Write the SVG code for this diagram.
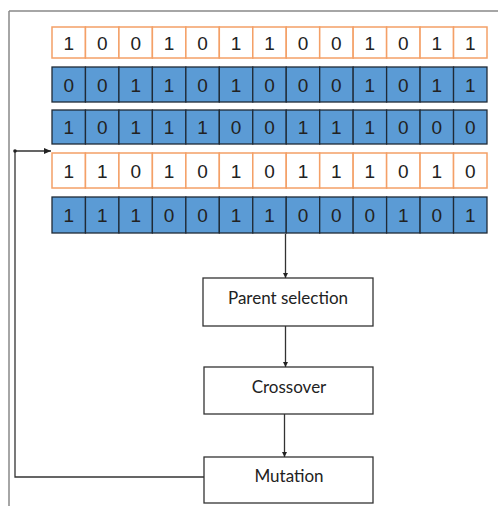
<svg xmlns="http://www.w3.org/2000/svg" width="498" height="506" viewBox="0 0 498 506">
<defs>
<style>
.o{fill:#fff;stroke:#f4a067;stroke-width:1.5}
.b{fill:#5b9bd5;stroke:#1f2a36;stroke-width:1.3}
.d{font-family:"Liberation Sans",Arial,sans-serif;font-size:19px;fill:#222;text-anchor:middle}
.box{fill:#fff;stroke:#333;stroke-width:1.3}
.lbl{font-family:Lato,"Liberation Sans",sans-serif;font-size:17px;fill:#222;text-anchor:middle}
.ln{fill:none;stroke:#333;stroke-width:1.3}
</style>
<marker id="ah" markerWidth="8" markerHeight="8" refX="7" refY="4" orient="auto" markerUnits="userSpaceOnUse">
<path d="M0,1 L7,4 L0,7 Z" fill="#222"/>
</marker>
<marker id="ahs" markerWidth="6" markerHeight="6" refX="5" refY="3" orient="auto" markerUnits="userSpaceOnUse">
<path d="M0,0.5 L5,3 L0,5.5 Z" fill="#222"/>
</marker>
</defs>
<g id="frame">
<line x1="9" y1="11" x2="498" y2="11" stroke="#888" stroke-width="1.5"/>
<line x1="9" y1="11" x2="9" y2="506" stroke="#888" stroke-width="1.5"/>
</g>
<g id="row1">
<g class="o">
<rect x="52" y="27" width="33.46" height="31"/><rect x="85.46" y="27" width="33.46" height="31"/><rect x="118.92" y="27" width="33.46" height="31"/><rect x="152.38" y="27" width="33.46" height="31"/><rect x="185.85" y="27" width="33.46" height="31"/><rect x="219.31" y="27" width="33.46" height="31"/><rect x="252.77" y="27" width="33.46" height="31"/><rect x="286.23" y="27" width="33.46" height="31"/><rect x="319.69" y="27" width="33.46" height="31"/><rect x="353.15" y="27" width="33.46" height="31"/><rect x="386.62" y="27" width="33.46" height="31"/><rect x="420.08" y="27" width="33.46" height="31"/><rect x="453.54" y="27" width="33.46" height="31"/>
</g>
<g class="d">
<text x="68.7" y="49.5">1</text><text x="102.2" y="49.5">0</text><text x="135.7" y="49.5">0</text><text x="169.1" y="49.5">1</text><text x="202.6" y="49.5">0</text><text x="236" y="49.5">1</text><text x="269.5" y="49.5">1</text><text x="303" y="49.5">0</text><text x="336.4" y="49.5">0</text><text x="369.9" y="49.5">1</text><text x="403.3" y="49.5">0</text><text x="436.8" y="49.5">1</text><text x="470.3" y="49.5">1</text>
</g>
</g>
<g id="row2">
<g class="b">
<rect x="52" y="67" width="33.46" height="35"/><rect x="85.46" y="67" width="33.46" height="35"/><rect x="118.92" y="67" width="33.46" height="35"/><rect x="152.38" y="67" width="33.46" height="35"/><rect x="185.85" y="67" width="33.46" height="35"/><rect x="219.31" y="67" width="33.46" height="35"/><rect x="252.77" y="67" width="33.46" height="35"/><rect x="286.23" y="67" width="33.46" height="35"/><rect x="319.69" y="67" width="33.46" height="35"/><rect x="353.15" y="67" width="33.46" height="35"/><rect x="386.62" y="67" width="33.46" height="35"/><rect x="420.08" y="67" width="33.46" height="35"/><rect x="453.54" y="67" width="33.46" height="35"/>
</g>
<g class="d">
<text x="68.7" y="91.5">0</text><text x="102.2" y="91.5">0</text><text x="135.7" y="91.5">1</text><text x="169.1" y="91.5">1</text><text x="202.6" y="91.5">0</text><text x="236" y="91.5">1</text><text x="269.5" y="91.5">0</text><text x="303" y="91.5">0</text><text x="336.4" y="91.5">0</text><text x="369.9" y="91.5">1</text><text x="403.3" y="91.5">0</text><text x="436.8" y="91.5">1</text><text x="470.3" y="91.5">1</text>
</g>
</g>
<g id="row3">
<g class="b">
<rect x="52" y="110" width="33.46" height="34"/><rect x="85.46" y="110" width="33.46" height="34"/><rect x="118.92" y="110" width="33.46" height="34"/><rect x="152.38" y="110" width="33.46" height="34"/><rect x="185.85" y="110" width="33.46" height="34"/><rect x="219.31" y="110" width="33.46" height="34"/><rect x="252.77" y="110" width="33.46" height="34"/><rect x="286.23" y="110" width="33.46" height="34"/><rect x="319.69" y="110" width="33.46" height="34"/><rect x="353.15" y="110" width="33.46" height="34"/><rect x="386.62" y="110" width="33.46" height="34"/><rect x="420.08" y="110" width="33.46" height="34"/><rect x="453.54" y="110" width="33.46" height="34"/>
</g>
<g class="d">
<text x="68.7" y="133.5">1</text><text x="102.2" y="133.5">0</text><text x="135.7" y="133.5">1</text><text x="169.1" y="133.5">1</text><text x="202.6" y="133.5">1</text><text x="236" y="133.5">0</text><text x="269.5" y="133.5">0</text><text x="303" y="133.5">1</text><text x="336.4" y="133.5">1</text><text x="369.9" y="133.5">1</text><text x="403.3" y="133.5">0</text><text x="436.8" y="133.5">0</text><text x="470.3" y="133.5">0</text>
</g>
</g>
<g id="row4">
<g class="o">
<rect x="52" y="153" width="33.46" height="35"/><rect x="85.46" y="153" width="33.46" height="35"/><rect x="118.92" y="153" width="33.46" height="35"/><rect x="152.38" y="153" width="33.46" height="35"/><rect x="185.85" y="153" width="33.46" height="35"/><rect x="219.31" y="153" width="33.46" height="35"/><rect x="252.77" y="153" width="33.46" height="35"/><rect x="286.23" y="153" width="33.46" height="35"/><rect x="319.69" y="153" width="33.46" height="35"/><rect x="353.15" y="153" width="33.46" height="35"/><rect x="386.62" y="153" width="33.46" height="35"/><rect x="420.08" y="153" width="33.46" height="35"/><rect x="453.54" y="153" width="33.46" height="35"/>
</g>
<g class="d">
<text x="68.7" y="177.5">1</text><text x="102.2" y="177.5">1</text><text x="135.7" y="177.5">0</text><text x="169.1" y="177.5">1</text><text x="202.6" y="177.5">0</text><text x="236" y="177.5">1</text><text x="269.5" y="177.5">0</text><text x="303" y="177.5">1</text><text x="336.4" y="177.5">1</text><text x="369.9" y="177.5">1</text><text x="403.3" y="177.5">0</text><text x="436.8" y="177.5">1</text><text x="470.3" y="177.5">0</text>
</g>
</g>
<g id="row5">
<g class="b">
<rect x="52" y="197" width="33.46" height="36"/><rect x="85.46" y="197" width="33.46" height="36"/><rect x="118.92" y="197" width="33.46" height="36"/><rect x="152.38" y="197" width="33.46" height="36"/><rect x="185.85" y="197" width="33.46" height="36"/><rect x="219.31" y="197" width="33.46" height="36"/><rect x="252.77" y="197" width="33.46" height="36"/><rect x="286.23" y="197" width="33.46" height="36"/><rect x="319.69" y="197" width="33.46" height="36"/><rect x="353.15" y="197" width="33.46" height="36"/><rect x="386.62" y="197" width="33.46" height="36"/><rect x="420.08" y="197" width="33.46" height="36"/><rect x="453.54" y="197" width="33.46" height="36"/>
</g>
<g class="d">
<text x="68.7" y="222">1</text><text x="102.2" y="222">1</text><text x="135.7" y="222">1</text><text x="169.1" y="222">0</text><text x="202.6" y="222">0</text><text x="236" y="222">1</text><text x="269.5" y="222">1</text><text x="303" y="222">0</text><text x="336.4" y="222">0</text><text x="369.9" y="222">0</text><text x="403.3" y="222">1</text><text x="436.8" y="222">0</text><text x="470.3" y="222">1</text>
</g>
</g>
<g id="parent-selection">
<rect class="box" x="203" y="278" width="170" height="48"/>
<text class="lbl" x="288" y="304">Parent selection</text>
</g>
<g id="crossover">
<rect class="box" x="204" y="367" width="169" height="47"/>
<text class="lbl" x="289" y="393">Crossover</text>
</g>
<g id="mutation">
<rect class="box" x="204" y="457" width="169" height="46"/>
<text class="lbl" x="289" y="482">Mutation</text>
</g>
<g id="connectors">
<line class="ln" x1="285.5" y1="234" x2="285.5" y2="278" marker-end="url(#ahs)"/>
<line class="ln" x1="285.5" y1="326" x2="285.5" y2="367" marker-end="url(#ahs)"/>
<line class="ln" x1="284.5" y1="414" x2="284.5" y2="457" marker-end="url(#ahs)"/>
<polyline class="ln" points="204,477 15,477 15,151 51,151" marker-end="url(#ah)"/>
<circle cx="15" cy="151" r="1.8" fill="#222"/>
</g>
</svg>
